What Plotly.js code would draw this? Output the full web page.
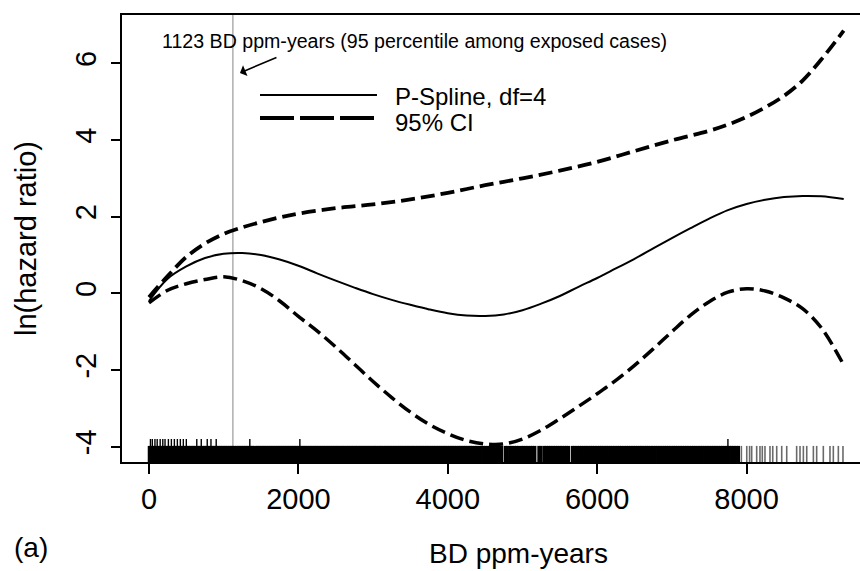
<!DOCTYPE html>
<html>
<head>
<meta charset="utf-8">
<script src="https://cdn.plot.ly/plotly-3.0.1.min.js"></script>
<style>html,body{margin:0;padding:0;background:#fff;}#chart{width:860px;height:571px;}</style>
</head>
<body>
<div id="chart"></div>
<script>
// P-spline estimate (solid)
const splineX = [0,250,500,750,1000,1250,1500,1750,2000,2250,2500,2750,3000,3250,3500,3750,4000,4250,4500,4750,5000,5250,5500,5750,6000,6250,6500,6750,7000,7250,7500,7750,8000,8250,8500,8750,9000,9300];
const splineY = [-0.2,0.38,0.7,0.92,1.03,1.05,1.0,0.88,0.72,0.52,0.33,0.15,-0.02,-0.17,-0.3,-0.42,-0.52,-0.58,-0.59,-0.55,-0.44,-0.27,-0.07,0.17,0.4,0.65,0.9,1.17,1.44,1.7,1.95,2.17,2.33,2.44,2.51,2.54,2.53,2.46];
// upper 95% CI
const upperX = [0,250,500,750,1000,1250,1500,1750,2000,2500,3000,3500,4000,4500,5000,5500,6000,6500,7000,7500,7750,8000,8250,8500,8750,9000,9300];
const upperY = [-0.1,0.45,0.95,1.3,1.55,1.72,1.86,1.98,2.08,2.22,2.32,2.45,2.62,2.82,3.0,3.2,3.43,3.71,3.99,4.24,4.4,4.6,4.85,5.15,5.55,6.1,6.85];
// lower 95% CI
const lowerX = [0,250,500,750,1000,1250,1500,1750,2000,2250,2500,2750,3000,3250,3500,3750,4000,4250,4500,4750,5000,5250,5500,5750,6000,6250,6500,6750,7000,7250,7500,7750,8000,8250,8500,8750,9000,9300];
const lowerY = [-0.25,0.08,0.25,0.36,0.43,0.33,0.12,-0.2,-0.6,-0.98,-1.4,-1.85,-2.3,-2.72,-3.1,-3.42,-3.66,-3.84,-3.93,-3.93,-3.8,-3.57,-3.27,-2.95,-2.62,-2.27,-1.88,-1.45,-1.0,-0.57,-0.22,0.03,0.12,0.06,-0.12,-0.4,-0.9,-1.87];
// rug of exposures
const rugShort = [5,27,53,76,101,123,148,170,196,217,244,265,291,312,339,360,387,408,434,456,481,504,529,551,577,598,625,646,672,693,720,741,767,789,814,837,862,884,910,931,958,979,1005,1027,1052,1074,1100,1121,1147,1169,1194,1217,1242,1264,1290,1311,1337,1359,1384,1407,1432,1454,1480,1501,1528,1549,1575,1597,1622,1644,1670,1691,1718,1739,1765,1787,1812,1835,1860,1882,1908,1929,1955,1977,2002,2025,2050,2072,2098,2119,2146,2167,2193,2215,2240,2262,2288,2309,2336,2357,2383,2405,2430,2453,2478,2500,2526,2547,2573,2595,2620,2643,2668,2690,2716,2737,2764,2785,2811,2833,2858,2880,2906,2927,2954,2975,3001,3023,3048,3070,3096,3117,3144,3165,3191,3213,3238,3261,3286,3308,3334,3355,3381,3403,3428,3451,3476,3498,3524,3545,3571,3593,3618,3641,3666,3688,3714,3735,3762,3783,3809,3831,3856,3878,3904,3925,3952,3973,3999,4021,4046,4068,4094,4115,4142,4163,4189,4211,4236,4258,4284,4305,4330,4362,4390,4421,4447,4480,4506,4540,4566,4598,4625,4660,4688,4720,4770,4797,4830,4858,4890,4920,4948,4985,5012,5045,5072,5105,5133,5165,5220,5248,5290,5318,5350,5377,5410,5438,5470,5500,5528,5560,5590,5618,5670,5698,5730,5760,5788,5820,5850,5878,5910,5940,5968,6000,6030,6058,6090,6120,6148,6180,6210,6238,6270,6300,6328,6360,6390,6418,6450,6480,6508,6540,6570,6598,6630,6660,6688,6720,6750,6778,6810,6840,6868,6900,6930,6958,6990,7020,7048,7080,7110,7138,7170,7200,7228,7260,7290,7318,7350,7380,7408,7440,7470,7498,7530,7560,7588,7620,7650,7678,7710,7740,7768,7800,7830,7860,7890,7930,8002,8040,8068,8135,8179,8210,8246,8313,8350,8403,8470,8537,8670,8715,8760,8805,8894,8938,9027,9116,9161,9228,9290];
const rugTall = [20,45,80,110,150,185,215,260,300,340,380,420,460,500,640,700,780,830,900,1350,2020,7750];
const refLineX = 1123;
const annotText = "1123 BD ppm-years (95 percentile among exposed cases)";
const legendLabels = ["P-Spline, df=4", "95% CI"];
const xTicks = [0,2000,4000,6000,8000];
const yTicks = [-4,-2,0,2,4,6];

const xRange = [-361, 9518];
const yRange = [-4.40, 7.26];
const font = "Liberation Sans, Arial, Helvetica, sans-serif";

function rugTrace(vals, top, w, color) {
  const xs = [], ys = [];
  vals.forEach(v => { xs.push(v, v, null); ys.push(yRange[0], top, null); });
  return {x: xs, y: ys, mode: 'lines', line: {color: color, width: w, simplify: false}, connectgaps: false, hoverinfo: 'skip', showlegend: false};
}
const denseLimit = 7900; // sparse tail is drawn lighter, as in the scan
const dash = "14px,6px";
const traces = [
  rugTrace(rugShort.filter(v => v <= denseLimit), -3.98, 3.2, '#000'),
  rugTrace(rugShort.filter(v => v > denseLimit), -3.98, 1.6, '#6a6a6a'),
  rugTrace(rugTall, -3.80, 1.4, '#000'),
  {x: upperX, y: upperY, mode: 'lines', line: {color: '#000', width: 3.8, dash: dash, shape: 'spline', smoothing: 1}, showlegend: false},
  {x: lowerX, y: lowerY, mode: 'lines', line: {color: '#000', width: 3.5, dash: dash, shape: 'spline', smoothing: 1}, showlegend: false},
  {x: splineX, y: splineY, mode: 'lines', line: {color: '#000', width: 2, shape: 'spline', smoothing: 1}, showlegend: false}
];

const layout = {
  width: 860, height: 571,
  margin: {l: 122, r: 0, t: 15, b: 109},
  paper_bgcolor: '#fff', plot_bgcolor: '#fff',
  font: {family: font, color: '#000', size: 29},
  showlegend: false,
  xaxis: {
    range: xRange, tickvals: xTicks, ticktext: xTicks.map(String),
    showline: true, mirror: true, linecolor: '#000', linewidth: 2,
    ticks: 'outside', ticklen: 10, tickwidth: 2, tickcolor: '#000',
    showgrid: false, zeroline: false, tickfont: {size: 29}, ticklabelstandoff: 0
  },
  yaxis: {
    range: yRange, tickvals: yTicks, ticktext: yTicks.map(String),
    showline: true, linecolor: '#000', linewidth: 2,
    ticks: 'outside', ticklen: 9, tickwidth: 2, tickcolor: '#000',
    showgrid: false, zeroline: false, tickangle: -90, tickfont: {size: 29}, ticklabelstandoff: 3,
    title: {text: 'ln(hazard ratio)', font: {size: 29}, standoff: 25}
  },
  shapes: [
    {type: 'line', xref: 'x', yref: 'paper', x0: refLineX, x1: refLineX, y0: 0, y1: 1, line: {color: '#b3b3b3', width: 1.6}, layer: 'below'},
    {type: 'line', xref: 'paper', yref: 'paper', x0: 0.187, x1: 0.3455, y0: 0.821, y1: 0.821, line: {color: '#000', width: 2}},
    {type: 'line', xref: 'paper', yref: 'paper', x0: 0.187, x1: 0.3455, y0: 0.7696, y1: 0.7696, line: {color: '#000', width: 4, dash: '34px,6px'}}
  ],
  annotations: [
    {text: annotText, xref: 'paper', yref: 'paper', x: 0.396, y: 0.942, xanchor: 'center', yanchor: 'middle', showarrow: false, font: {size: 19.6}},
    {text: '', x: refLineX + 95, y: 5.75, xref: 'x', yref: 'y', showarrow: true, arrowhead: 1, arrowsize: 1.2, arrowwidth: 1.6, arrowcolor: '#000', ax: 38, ay: -16},
    {text: legendLabels[0], xref: 'paper', yref: 'paper', x: 0.367, y: 0.8166, xanchor: 'left', yanchor: 'middle', showarrow: false, font: {size: 24}},
    {text: legendLabels[1], xref: 'paper', yref: 'paper', x: 0.367, y: 0.7606, xanchor: 'left', yanchor: 'middle', showarrow: false, font: {size: 24}},
    {text: 'BD ppm-years', xref: 'paper', yref: 'paper', x: 0.5366, y: -0.2036, xanchor: 'center', yanchor: 'middle', showarrow: false, font: {size: 28}},
    {text: '(a)', xref: 'paper', yref: 'paper', x: -0.149, y: -0.192, xanchor: 'left', yanchor: 'middle', showarrow: false, font: {size: 28}}
  ]
};

Plotly.newPlot('chart', traces, layout, {displayModeBar: false, staticPlot: true});
</script>
</body>
</html>
